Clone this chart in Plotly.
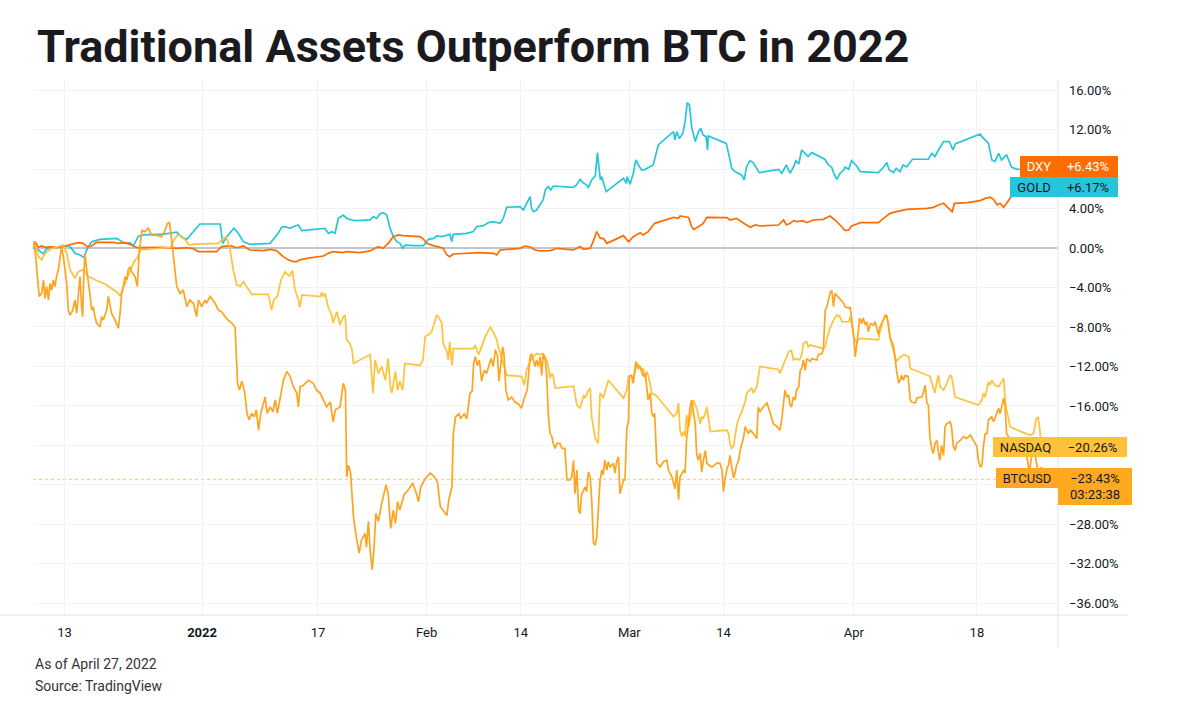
import pandas as pd
import plotly.graph_objects as go

BASE = pd.Timestamp("2021-12-13")

# ---------------- data (days since 2021-12-13, % change) ----------------
gold_days = [-4.3, -3.6, -2.9, -2.55, -2.0, -0.16, 0.67, 1.45, 2.14, 2.7, 3.06, 3.75, 4.9, 7.2, 7.9, 8.36, 9.05, 9.5,
             10.2, 10.9, 13.65, 14.6, 15.5, 16.2, 16.9, 17.6, 18.7, 21.5, 21.85, 22.6, 23.4, 24.0, 24.7, 25.6, 28.4,
             29.5, 30.0, 30.46, 31.15, 31.84, 32.3, 32.76, 35.29, 35.98, 36.44, 36.9, 37.36, 37.59, 37.82, 38.51,
             38.97, 39.66, 40.35, 42.19, 42.65, 43.11, 43.57, 44.03, 44.5, 44.96, 45.42, 45.88, 46.34, 46.7, 47.03,
             48.19, 49.57, 50.0, 50.25, 50.95, 51.4, 52.1, 52.78, 53.24, 53.47, 53.7, 55.55, 56.47, 56.9, 57.85,
             58.54, 59.23, 60.15, 60.6, 61.07, 62.9, 63.37, 64.06, 64.3, 64.5, 64.75, 65.2, 65.7, 66.1, 66.4, 66.8,
             67.15, 67.5, 70.3, 70.7, 71.2, 71.7, 72.0, 72.35, 72.8, 73.3, 73.6, 74.0, 74.2, 74.4, 74.8, 77.2, 77.6,
             77.7, 78.1, 78.55, 78.9, 79.25, 79.7, 80.2, 81.3, 82.0, 84.1, 84.3, 84.55, 84.9, 85.4, 85.7, 86.0, 86.3,
             86.6, 87.1, 87.55, 87.85, 88.2, 88.6, 88.8, 88.9, 91.4, 92.15, 92.6, 93.05, 93.5, 93.85, 94.2, 94.65,
             95.1, 95.95, 98.6, 99.05, 99.7, 100.2, 100.7, 101.0, 101.4, 101.8, 102.3, 102.7, 103.2, 105.0, 105.5,
             105.95, 106.2, 106.65, 107.1, 107.6, 107.8, 108.3, 108.7, 109.05, 109.4, 109.9, 112.4, 113.1, 113.55,
             113.9, 114.5, 114.85, 115.4, 115.8, 116.3, 117.1, 119.3, 119.8, 120.2, 120.7, 121.4, 122.2, 122.7,
             123.0, 126.45, 126.7, 127.15, 127.6, 128.06, 128.5, 129.0, 129.4, 130.1, 130.8, 131.5, 133.0, 134.8]
gold_pct = [0.0, -0.2, -0.6, -0.13, 0.0, 0.14, 0.24, -0.54, -0.7, -0.95, -0.2, 0.64, 0.88, 0.98, 0.64, 0.47, 0.54, 0.2,
            1.2, 1.32, 1.4, 1.5, 1.6, 1.08, 0.88, 1.5, 2.43, 2.43, 0.47, 1.32, 2.0, 1.5, 0.64, 0.37, 0.47,
            1.5, 2.1, 2.16, 1.99, 2.23, 2.33, 1.76, 1.89, 1.99, 1.49, 1.66, 1.49, 2.33, 3.0, 3.34,
            3.0, 2.84, 2.77, 2.84, 3.18, 3.0, 3.45, 3.58, 3.34, 1.99, 1.15, 0.64, 0.47, -0.03, 0.3,
            0.24, 0.24, 0.64, 0.88, 0.98, 1.22, 1.15, 1.32, 1.39, 0.64, 1.39, 1.49, 1.66, 2.16, 2.26,
            2.57, 2.67, 2.5, 3.0, 4.12, 4.19, 3.85, 4.86, 5.2, 4.02, 3.68, 3.85, 4.36, 4.86, 5.88, 6.22,
            5.88, 6.28, 6.15, 6.39, 6.96, 6.55, 6.45, 6.15, 6.89, 7.3, 9.66, 6.89, 7.23, 6.72, 5.71, 7.06, 6.55,
            7.23, 6.45, 7.57, 8.92, 8.41, 7.9, 7.97, 8.41, 10.44, 11.79, 10.95, 11.79, 11.1, 11.6, 12.8, 14.73, 14.49,
            12.3, 10.78, 11.79, 12.13, 11.45, 11.28, 9.93, 11.35, 10.6, 8.07, 7.74, 7.57, 7.4, 6.89, 8.24, 8.85,
            8.65, 7.64, 7.97, 7.57, 8.41, 7.57, 8.24, 8.85, 8.51, 9.93, 9.59, 9.26, 9.66, 8.99, 8.41,
            8.18, 7.64, 6.96, 7.57, 7.9, 8.18, 7.97, 8.85, 8.58, 8.31, 7.74, 7.64, 8.18, 8.65,
            7.9, 7.64, 8.07, 7.74, 8.41, 8.24, 8.99, 8.99, 9.59, 9.26, 9.93, 10.78, 10.78, 9.93,
            10.54, 11.55, 11.28, 10.95, 10.6, 8.92, 8.75, 9.59, 8.92, 9.43, 8.18, 8.0, 7.9, 8.0]

dxy_days = [-4.3, -4.07, -3.6, -3.15, -2.7, -2.0, -1.1, -0.16, 0.53, 1.2, 1.9, 2.6, 3.15, 3.75, 4.4, 6.75, 7.4, 8.36,
            9.05, 10.0, 13.65, 15.5, 16.9, 17.8, 18.5, 21.0, 21.7, 22.9, 23.8, 24.7, 25.6, 27.5, 28.4, 29.3, 30.2,
            30.9, 31.6, 32.07, 32.5, 33.45, 34.8, 35.75, 36.4, 37.1, 38.5, 38.97, 40.8, 42.2, 42.9, 43.35, 44.0,
            44.7, 45.4, 46.1, 46.8, 49.1, 49.6, 50.0, 50.95, 51.9, 52.3, 52.8, 53.2, 53.7, 56.5, 57.4, 59.2, 59.7,
            60.15, 61.07, 62.9, 63.6, 64.3, 65.0, 65.7, 67.1, 68.0, 70.3, 71.2, 71.7, 72.6, 73.0, 73.5, 74.0, 74.4,
            74.9, 77.2, 77.9, 78.55, 79.5, 79.9, 80.6, 81.5, 84.1, 84.8, 85.0, 86.2, 86.6, 86.9, 87.55, 88.2, 88.7,
            91.5, 91.9, 92.8, 93.8, 94.7, 95.4, 96.1, 98.6, 99.3, 99.7, 100.2, 100.7, 101.1, 102.0, 102.5, 103.4,
            104.8, 105.7, 106.4, 107.1, 107.8, 108.3, 108.7, 109.9, 112.4, 113.1, 114.0, 114.9, 116.3, 119.1, 120.0,
            120.7, 121.4, 122.1, 122.6, 122.9, 124.7, 126.45, 127.15, 127.85, 128.3, 128.8, 129.2, 129.7, 130.1,
            130.8, 132.0, 134.8]
dxy_pct = [0.0, 0.64, 0.07, 0.2, 0.07, 0.14, 0.03, 0.14, 0.3, 0.4, 0.54, 0.47, 0.14, 0.2, 0.57, 0.57, 0.47, 0.54,
           0.37, 0.03, 0.07, -0.03, 0.03, -0.07, -0.37, -0.37, 0.14, 0.24, 0.03, 0.2, -0.2, -0.27, -0.14, -0.27, -0.88,
           -1.2, -1.39, -1.39, -1.2, -1.05, -0.95, -0.81, -0.54, -0.37, -0.47, -0.37, -0.47, -0.3, -0.03, 0.14, -0.03,
           0.47, 1.15, 1.32, 1.25, 1.15, 0.88, 0.47, 0.24, 0.03, -0.03, -0.71, -0.88, -0.61, -0.54, -0.47, -0.54, -0.71,
           -0.2, -0.14, -0.03, 0.2, 0.1, -0.2, -0.3, -0.27, -0.03, -0.2, 0.14, -0.14, -0.03, 0.64, 1.66, 0.98, 0.98,
           0.47, 1.25, 0.64, 1.15, 1.55, 1.32, 1.66, 2.5, 3.1, 3.0, 3.24, 3.1, 2.16, 1.89, 2.16, 2.5, 3.1,
           3.07, 2.84, 3.0, 2.5, 2.1, 2.33, 2.23, 2.33, 2.84, 2.33, 2.5, 2.77, 2.67, 2.77, 2.57, 2.84,
           2.9, 3.24, 2.84, 2.33, 1.76, 1.82, 2.23, 2.57, 2.57, 3.0, 3.51, 3.68, 3.92, 4.02, 4.12,
           4.36, 4.53, 4.02, 3.68, 4.53, 4.6, 4.8, 5.03, 5.14, 4.93, 4.36, 4.53, 4.12, 4.53,
           5.27, 5.6, 5.5]

nasdaq_days = [-4.3, -4.2, -3.6, -3.15, -2.7, -2.0, -0.6, -0.16, 0.3, 0.76, 1.45, 1.9, 2.6, 3.3, 4.45, 5.6, 6.5, 7.3,
               7.65, 8.0, 8.6, 9.05, 9.6, 10.1, 10.5, 14.6, 15.1, 15.6, 16.2, 16.6, 17.2, 17.9, 21.25, 21.7, 22.3,
               22.8, 23.3, 23.8, 24.3, 24.7, 25.25, 25.85, 28.15, 28.6, 28.9, 29.4, 29.9, 30.45, 30.8, 31.05, 31.5,
               31.8, 32.3, 32.5, 32.8, 35.3, 35.5, 35.75, 36.0, 36.4, 36.9, 37.1, 37.6, 38.05, 38.5, 38.75, 38.97,
               39.4, 39.7, 39.9, 42.2, 42.6, 42.9, 43.35, 43.8, 44.3, 44.7, 45.0, 45.2, 45.7, 46.0, 46.3, 46.7, 47.0,
               49.1, 49.5, 49.8, 50.25, 50.7, 51.2, 51.4, 51.8, 52.1, 52.3, 52.8, 53.0, 53.2, 53.5, 53.7, 56.5, 56.7,
               57.2, 57.6, 58.1, 58.8, 59.2, 59.7, 59.9, 60.4, 61.1, 63.1, 63.5, 63.8, 64.3, 64.75, 65.2, 65.7, 66.1,
               66.6, 66.8, 67.05, 67.3, 67.5, 67.75, 70.3, 70.5, 70.75, 71.2, 71.7, 71.9, 72.35, 72.6, 72.8, 73.3,
               73.5, 73.7, 73.96, 74.2, 74.4, 74.6, 75.1, 77.2, 77.4, 77.65, 77.9, 78.3, 78.55, 79.0, 79.5, 79.7,
               79.9, 80.2, 80.4, 80.6, 80.9, 81.1, 81.8, 84.1, 84.55, 84.8, 85.0, 85.25, 85.5, 85.7, 85.9, 86.2, 86.4,
               86.85, 87.3, 87.8, 88.0, 88.2, 88.5, 88.7, 89.2, 91.5, 91.7, 91.9, 92.15, 92.4, 92.8, 93.05, 93.5,
               93.8, 94.0, 94.2, 94.7, 94.9, 95.15, 95.6, 96.05, 98.6, 98.8, 99.05, 99.5, 100.0, 100.4, 100.65, 100.9,
               101.4, 101.6, 101.8, 102.05, 102.5, 102.7, 103.0, 104.8, 105.05, 105.3, 105.7, 106.2, 106.65, 107.1,
               107.35, 108.3, 108.5, 108.7, 109.0, 109.4, 109.9, 112.4, 112.6, 113.1, 113.3, 113.55, 113.8, 114.0,
               114.5, 114.9, 115.2, 115.9, 116.6, 116.8, 119.5, 120.0, 120.2, 120.5, 120.7, 120.9, 121.4, 121.85,
               122.3, 122.5, 122.75, 123.0, 126.2, 126.7, 126.9, 127.15, 127.6, 127.8, 128.05, 128.5, 129.0, 129.7,
               129.9, 130.1, 130.6, 131.1, 133.3, 133.8, 134.2, 134.45, 134.7, 134.9, 135.2]
nasdaq_pct = [0.0, 0.64, -0.88, -1.2, -0.54, -0.14, 0.2, 0.3, -0.54, -2.2, -3.07, -2.4, -2.2, -2.9, -3.3, -3.65, -4.1, -4.5,
              -4.86, -4.26, -3.24, -2.4, -1.39, -0.95, -0.2, 0.07, 0.8, 1.32, 1.2, 0.88, 0.3, 0.4, 0.47, 0.8, 1.15,
              0.14, -2.2, -3.75, -3.9, -3.4, -4.0, -4.7, -4.7, -6.3, -5.27, -4.9, -3.24, -2.4, -2.7, -2.84, -2.3,
              -4.1, -5.27, -6.0, -4.76, -4.93, -4.5, -4.93, -4.6, -5.95, -6.8, -7.6, -6.45, -7.8, -6.96, -6.8, -9.3,
              -9.66, -10.3, -11.7, -10.8, -14.7, -11.35, -12.7, -12.0, -13.4, -11.2, -14.05, -14.7, -12.5, -14.4, -13.5, -14.4, -11.7,
              -11.9, -11.35, -9.0, -8.8, -8.5, -7.1, -6.8, -7.2, -7.6, -9.66, -10.5, -11.35, -9.5, -11.9, -10.2, -10.2, -9.83,
              -10.8, -10.0, -9.0, -8.0, -8.5, -9.3, -10.0, -11.2, -12.9, -13.0, -13.9, -12.4, -11.5, -11.0, -10.7, -10.8, -10.7,
              -11.35, -12.0, -13.2, -12.7, -13.0, -14.2, -14.0, -15.1, -15.9, -16.25, -14.9, -15.2, -14.4, -14.2, -17.1, -19.3,
              -19.5, -19.8, -14.7, -14.9, -15.2, -14.7, -13.4, -15.2, -14.9, -14.4, -13.0, -12.9, -13.4, -11.7, -12.0, -12.5,
              -12.2, -13.2, -12.5, -12.9, -13.9, -14.7, -15.0, -17.1, -16.75, -15.7, -18.45, -19.1, -18.6, -19.1, -16.9, -18.1, -17.4,
              -15.4, -16.25, -17.8, -17.1, -17.3, -16.75, -16.1, -18.6, -18.45, -18.8, -19.8, -20.3, -20.1, -18.1, -17.4, -16.6,
              -16.1, -15.6, -14.7, -14.4, -14.2, -14.7, -14.05, -12.0, -12.3, -12.7, -12.2, -11.35, -10.5, -10.4, -11.35, -11.2,
              -11.35, -11.2, -10.8, -9.66, -9.5, -10.0, -9.83, -10.2, -10.0, -9.16, -8.14, -7.3, -6.8, -6.96,
              -7.47, -7.47, -6.96, -7.64, -9.16, -9.5, -9.16, -9.3, -8.5, -7.3, -6.8, -6.96, -7.64, -9.16,
              -10.5, -11.5, -11.2, -10.8, -11.0, -12.2, -13.0, -14.05, -14.7, -13.4, -12.9, -14.05, -14.4, -13.7,
              -12.9, -13.0, -14.05, -15.1, -15.9, -15.4, -14.7, -15.1, -13.55, -13.9, -13.4, -13.9, -14.05, -13.2,
              -15.4, -16.4, -18.1, -18.3, -18.95, -18.8, -17.3, -17.1, -18.45, -20.1, -20.26]

btc_days = [-4.3, -4.2, -3.94, -3.5, -3.15, -2.9, -2.7, -2.46, -2.23, -2.0, -1.77, -1.54, -1.3, -1.1, -0.85, -0.6, -0.4,
            -0.16, 0.07, 0.3, 0.53, 0.76, 1.13, 1.45, 1.68, 1.9, 2.14, 2.37, 2.5, 2.7, 2.83, 3.06, 3.3, 3.5, 3.75,
            3.98, 4.2, 4.44, 4.9, 5.13, 5.36, 5.82, 6.05, 6.28, 6.5, 6.98, 7.44, 7.67, 7.9, 8.13, 8.36, 8.6, 8.8,
            9.05, 9.28, 9.74, 10.06, 10.3, 10.7, 11.1, 11.58, 12.0, 12.7, 13.4, 13.9, 14.2, 14.5, 14.8, 15.1, 15.5,
            15.95, 16.4, 16.9, 17.3, 17.8, 18.25, 18.5, 18.95, 19.4, 19.6, 20.1, 20.8, 21.25, 21.7, 22.2, 22.6,
            23.1, 23.55, 23.9, 24.15, 24.5, 24.7, 24.9, 25.2, 25.5, 25.85, 26.2, 26.5, 26.8, 27.1, 27.5, 27.7,
            28.0, 28.4, 28.8, 29.1, 29.4, 29.77, 30.23, 30.7, 31.15, 31.6, 32.07, 32.3, 32.53, 33.0, 33.68, 34.37,
            34.8, 35.3, 35.75, 36.2, 36.7, 37.1, 37.4, 38.05, 38.5, 38.8, 38.97, 39.2, 39.5, 39.9, 40.3, 40.7,
            41.0, 41.5, 41.7, 41.97, 42.2, 42.5, 42.75, 43.0, 43.35, 43.8, 44.4, 44.7, 45.05, 45.4, 45.7, 46.0,
            46.3, 46.9, 47.5, 48.1, 48.6, 48.9, 49.2, 49.8, 50.5, 51.0, 51.5, 51.9, 52.4, 52.8, 53.1, 53.5, 53.7,
            54.0, 54.5, 54.7, 55.2, 55.55, 56.0, 56.3, 56.5, 56.75, 57.0, 57.3, 57.6, 57.95, 58.3, 58.9, 59.2,
            59.5, 59.8, 60.0, 60.25, 60.5, 60.7, 60.95, 61.3, 61.75, 62.2, 62.7, 63.1, 63.45, 63.9, 64.3, 64.5,
            65.0, 65.2, 65.45, 65.7, 65.9, 66.1, 66.4, 66.6, 66.8, 67.05, 67.3, 67.5, 67.75, 68.0, 68.4, 68.7,
            69.1, 69.4, 69.8, 70.05, 70.3, 70.5, 70.75, 71.0, 71.2, 71.4, 71.7, 71.9, 72.1, 72.35, 72.6, 72.8,
            73.05, 73.3, 73.5, 73.7, 73.96, 74.2, 74.4, 74.6, 74.9, 75.1, 75.35, 75.8, 76.0, 76.25, 76.5, 76.7,
            77.2, 77.4, 77.65, 77.9, 78.0, 78.3, 78.55, 78.9, 79.25, 79.5, 79.9, 80.2, 80.4, 80.6, 80.9, 81.1,
            81.3, 81.5, 81.8, 82.25, 82.7, 83.2, 83.4, 83.9, 84.3, 84.55, 84.8, 85.0, 85.5, 85.7, 85.9, 86.2,
            86.4, 86.6, 86.85, 87.1, 87.3, 87.5, 87.8, 88.0, 88.2, 88.5, 88.7, 89.4, 90.1, 90.5, 90.8, 91.0,
            91.2, 91.5, 91.7, 91.9, 92.15, 92.4, 92.6, 92.8, 93.05, 93.3, 93.8, 94.0, 94.45, 94.7, 95.15, 95.6,
            95.8, 96.05, 96.5, 97.0, 97.4, 97.9, 98.4, 98.8, 99.05, 99.3, 99.5, 99.75, 100.0, 100.2, 100.4, 100.65,
            100.9, 101.1, 101.4, 101.6, 101.8, 102.05, 102.3, 102.5, 103.0, 103.2, 103.9, 104.1, 104.6, 104.8,
            105.05, 105.3, 105.5, 105.7, 105.96, 106.2, 106.4, 106.65, 107.1, 107.6, 107.8, 108.3, 108.5, 108.7,
            109.0, 109.2, 109.4, 109.6, 109.8, 110.1, 110.3, 110.6, 110.8, 111.0, 111.3, 111.7, 111.95, 112.4,
            112.6, 113.1, 113.3, 113.55, 113.8, 114.0, 114.5, 114.7, 114.9, 115.2, 115.4, 115.6, 115.85, 116.1,
            116.5, 116.8, 117.0, 117.5, 117.7, 118.4, 118.6, 118.85, 119.1, 119.3, 119.5, 119.8, 120.0, 120.2,
            120.5, 120.7, 120.9, 121.1, 121.4, 121.6, 121.85, 122.3, 122.5, 122.75, 123.0, 123.2, 123.7, 124.15,
            124.6, 125.1, 125.5, 126.0, 126.2, 126.45, 126.7, 126.9, 127.15, 127.4, 127.6, 127.8, 128.05, 128.3,
            128.75, 129.0, 129.2, 129.4, 129.7, 129.9, 130.1, 130.35, 130.8, 131.5, 132.4, 133.0, 133.25, 133.6,
            134.0, 134.5, 134.9, 135.2]
btc_pct = [0.0, 0.64, -1.2, -4.9, -4.6, -3.24, -5.1, -3.9, -5.27, -3.6, -4.26, -3.24, -3.9, -2.9, -2.2, -0.88, 0.14,
           -0.88, -2.2, -3.6, -6.3, -6.8, -6.3, -5.27, -6.6, -4.9, -2.9, -5.95, -6.96, -2.2, -0.54, -2.2, -3.9, -4.6, -6.3,
           -5.95, -6.96, -7.6, -8.0, -6.96, -7.3, -6.3, -4.9, -5.6, -6.6, -7.3, -8.14, -6.6, -4.6, -3.9, -2.9, -3.24, -2.2,
           -1.9, -2.4, -2.9, -3.9, -0.54, 1.8, 1.66, 2.0, 1.3, 1.3, 1.15, 1.8, 2.5, 2.57, 0.8, -1.55, -3.9,
           -4.6, -4.26, -5.95, -5.27, -5.6, -6.96, -5.27, -5.95, -5.27, -5.6, -4.9, -5.6, -6.3, -6.45, -6.96, -7.3,
           -7.6, -8.0, -13.7, -14.4, -13.5, -14.05, -14.7, -16.75, -17.4, -16.75, -17.1, -16.4, -18.45, -16.75, -15.7, -15.1,
           -16.75, -16.1, -16.6, -15.4, -16.75, -15.4, -13.4, -12.5, -13.0, -14.05, -14.7, -16.1, -14.05, -13.9, -13.4, -13.7,
           -14.4, -14.7, -15.4, -16.1, -15.6, -17.6, -16.4, -16.1, -13.7, -14.4, -23.2, -22.0, -22.7, -27.2, -29.3, -30.9,
           -29.6, -28.9, -30.3, -27.7, -30.6, -32.6, -30.3, -26.9, -27.7, -25.9, -24.0, -24.9, -28.4, -26.55, -27.9, -25.7,
           -26.55, -25.0, -24.5, -23.8, -24.9, -25.7, -24.2, -23.4, -22.8, -23.1, -23.7, -26.2, -26.7, -27.1, -25.4, -24.2, -18.8,
           -17.1, -16.8, -17.3, -16.8, -17.3, -14.7, -14.5, -11.7, -11.0, -11.9, -11.35, -13.5, -12.4, -12.7, -11.2, -12.0,
           -10.3, -11.0, -13.5, -11.9, -10.0, -10.8, -14.4, -15.4, -15.1, -15.6, -15.8, -16.25, -15.3, -14.4, -11.0, -10.7,
           -12.0, -11.35, -12.0, -11.0, -12.9, -10.8, -11.35, -13.0, -16.75, -18.8, -19.1, -19.8, -20.3, -19.8, -19.8, -20.3,
           -20.3, -23.5, -23.5, -23.2, -21.5, -24.9, -22.5, -26.6, -26.9, -25.0, -24.5, -24.2, -24.7, -22.7, -23.2, -25.5,
           -29.9, -30.1, -29.3, -26.2, -23.5, -22.5, -23.0, -21.5, -22.5, -21.65, -22.2, -21.8, -22.8, -21.65, -21.15, -24.9,
           -23.5, -23.5, -18.4, -17.4, -13.0, -12.9, -13.7, -11.5, -12.2, -12.0, -13.0, -12.7, -14.05, -15.4, -14.7, -16.75,
           -17.1, -16.75, -21.8, -22.2, -21.65, -21.5, -22.5, -23.2, -24.4, -22.5, -25.5, -23.2, -22.5, -22.8, -19.5, -17.4,
           -16.1, -15.4, -16.4, -17.8, -20.8, -21.5, -20.8, -22.7, -21.65, -20.5, -21.8, -22.2, -21.8, -21.8, -22.5, -24.7,
           -23.5, -22.3, -22.0, -21.0, -22.2, -23.3, -22.8, -22.0, -21.65, -20.5, -19.1, -18.1, -18.8, -18.45, -18.8, -19.3,
           -16.1, -16.6, -16.1, -15.7, -16.6, -17.8, -18.1, -18.45, -17.4, -15.7, -14.4, -15.1, -14.9, -15.9, -16.1, -15.1,
           -15.4, -14.4, -14.05, -12.4, -12.2, -11.35, -12.4, -11.2, -11.5, -11.2, -11.35, -10.8, -10.7, -10.3,
           -6.3, -5.95, -5.27, -4.6, -4.3, -5.95, -4.6, -4.8, -5.1, -5.6, -5.95, -6.1, -5.95, -6.96,
           -9.0, -11.0, -10.0, -8.65, -7.1, -7.64, -7.1, -7.8, -7.47, -8.5, -7.64, -7.8, -7.47, -8.8,
           -8.0, -7.3, -6.96, -6.8, -8.0, -9.0, -10.0, -11.35, -12.4, -13.7, -13.4, -12.9, -13.4, -12.9,
           -13.0, -15.4, -15.6, -15.7, -15.2, -15.1, -14.7, -13.9, -15.7, -15.9, -19.1, -20.5, -20.8, -19.8,
           -19.5, -20.8, -21.5, -20.0, -21.0, -18.1, -17.8, -17.6, -18.1, -20.1, -20.5, -19.8, -19.5, -19.1,
           -19.3, -18.95, -19.5, -20.1, -21.5, -22.2, -22.0, -20.1, -18.8, -18.8, -17.4, -17.3, -17.1, -17.6,
           -16.6, -16.25, -16.8, -16.1, -15.2, -16.1, -18.8, -19.1, -19.8, -20.5, -20.1, -21.5, -22.8, -20.8,
           -20.8, -22.8, -22.2, -23.43]

# axis ticks
x_tick_days = [0, 19, 35, 50, 63, 78, 91, 109, 126]
x_tick_text = ["13", "<b>2022</b>", "17", "Feb", "14", "Mar", "14", "Apr", "18"]
y_tick_vals = [16, 12, 8, 4, 0, -4, -8, -12, -16, -20, -24, -28, -32, -36]
y_ticks_hidden = [8, -20, -24]   # covered by the last-value labels in the chart

# last-value labels
labels = [
    # name, value text, colour, text colour
    ("DXY", "+6.43%", "#FF6D00", "#FFFFFF"),
    ("GOLD", "+6.17%", "#26C6DA", "#131722"),
    ("NASDAQ", "\u221220.26%", "#FFC23A", "#131722"),
    ("BTCUSD", "\u221223.43%<br>03:23:38", "#FFAA1E", "#131722"),
]
btc_last = -23.43

# ---------------- layout geometry (pixels) ----------------
W, H = 1180, 726
PL, PR, PT, PB = 33, 1058, 80, 615          # plot box
DAY_MIN, DAY_MAX = -4.35, 137.2
Y_MIN, Y_MAX = -37.18, 17.02


def to_dates(days):
    return BASE + pd.to_timedelta(pd.Series(days, dtype=float), unit="D")


def px_x(px):
    return (px - PL) / (PR - PL)


def px_y(py):
    return (PB - py) / (PB - PT)


def fmt_pct(v):
    if v in y_ticks_hidden:
        return ""
    return f"{v:.2f}%" if v >= 0 else f"\u2212{abs(v):.2f}%"


fig = go.Figure()
series = [
    ("GOLD", gold_days, gold_pct, "#26C6DA"),
    ("DXY", dxy_days, dxy_pct, "#FF6D00"),
    ("NASDAQ", nasdaq_days, nasdaq_pct, "#FFC23A"),
    ("BTCUSD", btc_days, btc_pct, "#FFA41E"),
]
for name, d, v, c in series:
    fig.add_trace(go.Scatter(x=to_dates(d), y=v, mode="lines", name=name,
                             line=dict(color=c, width=1.7), hoverinfo="skip"))

tick_font = dict(family="Roboto, Arial, sans-serif", size=13, color="#131722")

fig.update_layout(
    width=W, height=H,
    margin=dict(l=PL, r=W - PR, t=PT, b=H - PB, pad=0),
    paper_bgcolor="white", plot_bgcolor="white",
    showlegend=False,
    xaxis=dict(
        type="date",
        range=[BASE + pd.Timedelta(days=DAY_MIN), BASE + pd.Timedelta(days=DAY_MAX)],
        tickvals=list(to_dates(x_tick_days)),
        ticktext=x_tick_text,
        showgrid=True, gridcolor="#F1F2F5", gridwidth=1,
        zeroline=False, showline=False, ticks="",
        tickfont=tick_font, ticklabelstandoff=8,
        fixedrange=True,
    ),
    yaxis=dict(
        side="right",
        range=[Y_MIN, Y_MAX],
        tickvals=y_tick_vals,
        ticktext=[fmt_pct(v) for v in y_tick_vals],
        showgrid=True, gridcolor="#F1F2F5", gridwidth=1,
        zeroline=True, zerolinecolor="#C3C5CC", zerolinewidth=1.5,
        showline=False, ticks="",
        tickfont=tick_font, ticklabelstandoff=10,
        fixedrange=True,
    ),
)

# price line for BTC last value
fig.add_shape(type="line", xref="paper", yref="y", x0=0, x1=1, y0=btc_last, y1=btc_last,
              line=dict(color="#FFC46B", width=1, dash="dot"), layer="between")
# right price-scale border and bottom time-scale border
fig.add_shape(type="line", xref="paper", yref="paper", x0=1, x1=1, y0=px_y(648), y1=1,
              line=dict(color="#E0E3EB", width=1))
fig.add_shape(type="line", xref="paper", yref="paper", x0=px_x(0), x1=px_x(1128), y0=0, y1=0,
              line=dict(color="#E0E3EB", width=1))

# last value labels: (name box left px, centre y px, height, value box width, value box height)
label_geom = [
    (1020, 166.5, 21, 60, 21),
    (1010, 187.0, 20, 60, 20),
    (993, 447.0, 20, 69, 20),
    (996, 478.0, 20, 74, 37),
]
lab_font = "Roboto, Arial, sans-serif"
for (name, val, bg, fg), (left, cy, h, vw, vh) in zip(labels, label_geom):
    fig.add_annotation(xref="paper", yref="paper", x=1, y=px_y(cy), xanchor="right", yanchor="middle",
                       text=name, showarrow=False, bgcolor=bg, width=PR - left, height=h,
                       borderpad=0, borderwidth=0, font=dict(family=lab_font, size=13, color=fg))
    fig.add_annotation(xref="paper", yref="paper", x=1, y=px_y(cy - h / 2 + vh / 2), xanchor="left",
                       yanchor="middle", text=val, showarrow=False, bgcolor=bg, width=vw, height=vh,
                       borderpad=0, borderwidth=0, font=dict(family=lab_font, size=13, color=fg))

# title and footer
fig.add_annotation(xref="paper", yref="paper", x=px_x(35), y=px_y(47), xanchor="left", yanchor="middle",
                   text="<b>Traditional Assets Outperform BTC in 2022</b>", showarrow=False,
                   font=dict(family="Roboto, Arial, sans-serif", size=45, color="#1B1B1F"))
fig.add_annotation(xref="paper", yref="paper", x=px_x(33), y=px_y(664), xanchor="left", yanchor="middle",
                   text="As of April 27, 2022", showarrow=False,
                   font=dict(family="Roboto, Arial, sans-serif", size=14, color="#333333"))
fig.add_annotation(xref="paper", yref="paper", x=px_x(33), y=px_y(686), xanchor="left", yanchor="middle",
                   text="Source: TradingView", showarrow=False,
                   font=dict(family="Roboto, Arial, sans-serif", size=14, color="#333333"))

fig.write_html("out.html", config={"displayModeBar": False},
               post_script="document.body.style.margin='0';document.body.style.padding='0';")
